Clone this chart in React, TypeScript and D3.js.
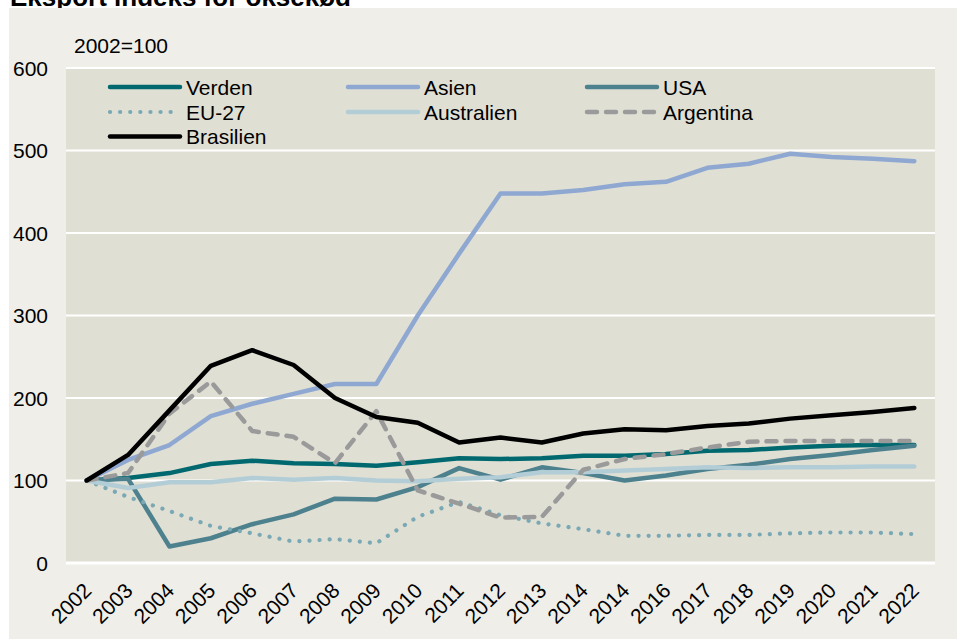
import React from "react";
import * as d3 from "d3";

const years = ["2002","2003","2004","2005","2006","2007","2008","2009","2010","2011","2012","2013","2014","2014","2016","2017","2018","2019","2020","2021","2022"];
const yTicks = [0, 100, 200, 300, 400, 500, 600];

const verden =    [100,103,109,120,124,121,120,118,122,127,126,127,130,130,132,136,137,140,142,143,143];
const asien =     [100,125,143,178,193,205,217,217,300,375,448,448,452,459,462,479,484,496,492,490,487];
const usa =       [100,102,20,30,47,59,78,77,92,115,101,116,109,100,106,114,119,126,131,137,142];
const eu27 =      [100,80,63,45,36,26,29,24,56,74,58,48,41,33,33,34,34,36,37,37,35];
const australien =[100,91,98,98,103,101,103,100,99,102,104,110,110,112,114,116,115,116,116,117,117];
const argentina = [100,109,181,220,160,153,121,184,88,72,55,56,113,126,132,140,147,148,148,148,148];
const brasilien = [100,131,185,239,258,240,200,177,170,146,152,146,157,162,161,166,169,175,179,183,188];

const seriesNames = ["Verden","Asien","USA","EU-27","Australien","Argentina","Brasilien"];
const seriesData = [verden, asien, usa, eu27, australien, argentina, brasilien];
const seriesColors = ["#00696f","#8fa8d2","#4d818e","#7aa9b5","#b3cdd7","#9a9a9a","#000000"];
const seriesDash = ["", "", "", "0.1 10", "", "10 9", ""];

const W = 957, H = 639;
const FONT = "Arial, 'Liberation Sans', Helvetica, sans-serif";

export default function App() {
  const x = d3.scalePoint<number>().domain(d3.range(years.length)).range([66, 935]).padding(0.5);
  const y = d3.scaleLinear().domain([0, 600]).range([563, 68]);
  const line = d3.line<number>().x((_, i) => x(i) as number).y(d => y(d));

  const legendCols = [110, 348, 587];
  const legendRows = [87, 112, 136.5];

  return (
    <div style={{ position: "fixed", left: 0, top: 0 }}>
      <svg width={W} height={H} style={{ display: "block", fontFamily: FONT }}>
        <rect x={0} y={0} width={W} height={H} fill="#ffffff" />
        <text x={10} y={6} fontSize={26} fontWeight="bold" fill="#000">Eksport indeks for oksekød</text>
        <rect x={9} y={8} width={W - 9} height={H - 8} fill="#efeee8" />
        <rect x={66} y={68} width={869} height={495} fill="#e0dfd4" />
        {yTicks.map(t => (
          <line key={t} x1={66} x2={935} y1={y(t)} y2={y(t)} stroke="#ffffff" strokeWidth={t === 0 ? 3 : 2} />
        ))}
        {yTicks.map(t => (
          <text key={"l" + t} x={48} y={y(t)} dy="0.36em" textAnchor="end" fontSize={21} fill="#000">{t}</text>
        ))}
        <text x={74} y={45} dy="0.36em" fontSize={21} fill="#000">2002=100</text>
        {years.map((yr, i) => (
          <text key={"x" + i} transform={`translate(${(x(i) as number) + 6},${592}) rotate(-45)`} textAnchor="end" fontSize={21} fill="#000">{yr}</text>
        ))}
        {seriesData.map((d, k) => (
          <path key={"s" + k} d={line(d) || ""} fill="none" stroke={seriesColors[k]} strokeWidth={k === 3 ? 4.2 : 4.5}
            strokeDasharray={seriesDash[k] || undefined} strokeLinecap="round" strokeLinejoin="round" />
        ))}
        {seriesNames.map((n, k) => {
          const col = k % 3, row = Math.floor(k / 3);
          const lx = legendCols[col], ly = legendRows[row];
          return (
            <g key={"lg" + k}>
              <line x1={lx} x2={lx + 70} y1={ly} y2={ly} stroke={seriesColors[k]} strokeWidth={k === 3 ? 4.2 : 4.5}
                strokeDasharray={seriesDash[k] || undefined} strokeLinecap="round" />
              <text x={lx + 76} y={ly} dy="0.36em" fontSize={21} fill="#000">{n}</text>
            </g>
          );
        })}
      </svg>
    </div>
  );
}
